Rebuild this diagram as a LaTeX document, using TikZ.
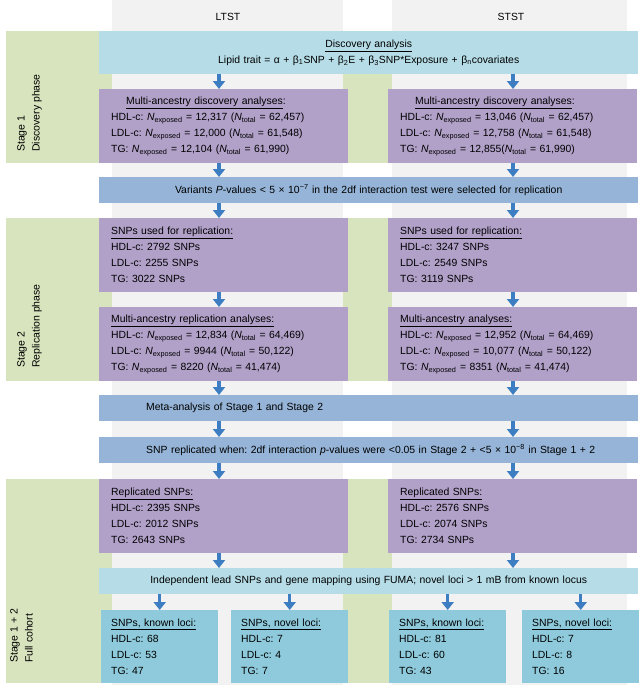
\documentclass[tikz,border=0pt]{standalone}
\usepackage{fontspec}
\setmainfont{Liberation Sans}
\usetikzlibrary{arrows.meta}
\frenchspacing
\definecolor{bandgreen}{RGB}{216,228,190}
\definecolor{colgray}{RGB}{242,242,242}
\definecolor{lightblue}{RGB}{182,221,231}
\definecolor{midblue}{RGB}{149,180,215}
\definecolor{boxpurple}{RGB}{177,161,201}
\definecolor{lociblue}{RGB}{142,202,219}
\definecolor{arrowblue}{RGB}{61,125,193}
\tikzset{
  box/.style={anchor=north west, inner xsep=12pt, inner ysep=0pt, align=left, font=\fontsize{10.4}{16}\selectfont},
  widebox/.style={box, fill=midblue, text width=515pt, minimum height=26pt},
  purplebox/.style={box, fill=boxpurple, text width=225pt, minimum height=74pt},
  locibox/.style={box, fill=lociblue, inner xsep=10pt, text width=97pt, minimum height=73pt},
  stagelabel/.style={rotate=90, anchor=north west, inner sep=0pt, align=left, font=\fontsize{10.5}{15}\selectfont},
  header/.style={font=\fontsize{10.4}{12}\selectfont},
  flow/.style={draw=arrowblue, line width=3.2pt, -{Triangle[width=12pt,length=8pt]}}
}
\begin{document}
\begin{tikzpicture}[x=1pt,y=-1pt]
	\useasboundingbox (0,0) rectangle (638,685);
	\fill[bandgreen] (6,31) rectangle (627,163);
	\fill[bandgreen] (6,218) rectangle (627,381);
	\fill[bandgreen] (6,479) rectangle (627,683);
	\fill[colgray] (112,0) rectangle (343,685);
	\fill[colgray] (392,0) rectangle (627,685);
	\coordinate (lcol) at (219,0);
	\coordinate (rcol) at (513,0);
	\node[header] (ltst) at (228,17) {LTST};
	\node[header] (stst) at (511,17) {STST};
	\node[box, fill=lightblue, text width=515pt, minimum height=43pt, align=center] (disc) at (99,31) {\underline{Discovery analysis}\\Lipid trait = α + β\textsubscript{1}SNP + β\textsubscript{2}E + β\textsubscript{3}SNP*Exposure + β\textsubscript{n}covariates};
		\node[purplebox] (mdl) at (99,89) {\hspace*{15pt}\underline{Multi-ancestry discovery analyses}:\\HDL-c: \textit{N}\textsubscript{exposed} = 12,317 (\textit{N}\textsubscript{total} = 62,457)\\LDL-c: \textit{N}\textsubscript{exposed} = 12,000 (\textit{N}\textsubscript{total} = 61,548)\\TG: \textit{N}\textsubscript{exposed} = 12,104 (\textit{N}\textsubscript{total} = 61,990)};
		\node[purplebox] (mdr) at (388,89) {\hspace*{15pt}\underline{Multi-ancestry discovery analyses}:\\HDL-c: \textit{N}\textsubscript{exposed} = 13,046 (\textit{N}\textsubscript{total} = 62,457)\\LDL-c: \textit{N}\textsubscript{exposed} = 12,758 (\textit{N}\textsubscript{total} = 61,548)\\TG: \textit{N}\textsubscript{exposed} = 12,855(\textit{N}\textsubscript{total} = 61,990)};
	\node[widebox, align=center] (var) at (99,177) {Variants \textit{P}-values < 5 × 10\textsuperscript{−7} in the 2df interaction test were selected for replication};
		\node[purplebox] (sul) at (99,218) {\underline{SNPs used for replication:}\\HDL-c: 2792 SNPs\\LDL-c: 2255 SNPs\\TG: 3022 SNPs};
		\node[purplebox] (sur) at (388,218) {\underline{SNPs used for replication:}\\HDL-c: 3247 SNPs\\LDL-c: 2549 SNPs\\TG: 3119 SNPs};
		\node[purplebox] (mrl) at (99,307) {\underline{Multi-ancestry replication analyses:}\\HDL-c: \textit{N}\textsubscript{exposed} = 12,834 (\textit{N}\textsubscript{total} = 64,469)\\LDL-c: \textit{N}\textsubscript{exposed} = 9944 (\textit{N}\textsubscript{total} = 50,122)\\TG: \textit{N}\textsubscript{exposed} = 8220 (\textit{N}\textsubscript{total} = 41,474)};
		\node[purplebox] (mrr) at (388,307) {\underline{Multi-ancestry analyses:}\\HDL-c: \textit{N}\textsubscript{exposed} = 12,952 (\textit{N}\textsubscript{total} = 64,469)\\LDL-c: \textit{N}\textsubscript{exposed} = 10,077 (\textit{N}\textsubscript{total} = 50,122)\\TG: \textit{N}\textsubscript{exposed} = 8351 (\textit{N}\textsubscript{total} = 41,474)};
	\node[widebox] (meta) at (99,395) {\hspace*{35pt}Meta-analysis of Stage 1 and Stage 2};
	\node[widebox] (repl) at (99,437) {\hspace*{35pt}SNP replicated when: 2df interaction \textit{p}-values were <0.05 in Stage 2 + <5 × 10\textsuperscript{−8} in Stage 1 + 2};
		\node[purplebox] (rsl) at (99,479) {\underline{Replicated SNPs:}\\HDL-c: 2395 SNPs\\LDL-c: 2012 SNPs\\TG: 2643 SNPs};
		\node[purplebox] (rsr) at (388,479) {\underline{Replicated SNPs:}\\HDL-c: 2576 SNPs\\LDL-c: 2074 SNPs\\TG: 2734 SNPs};
	\node[widebox, fill=lightblue, align=center] (fuma) at (99,568) {Independent lead SNPs and gene mapping using FUMA; novel loci > 1 mB from known locus};
			\node[locibox] (kl) at (101,610) {\underline{SNPs, known loci:}\\HDL-c: 68\\LDL-c: 53\\TG: 47};
			\node[locibox] (nl) at (231,610) {\underline{SNPs, novel loci:}\\HDL-c: 7\\LDL-c: 4\\TG: 7};
			\node[locibox] (kr) at (389,610) {\underline{SNPs, known loci:}\\HDL-c: 81\\LDL-c: 60\\TG: 43};
			\node[locibox] (nr) at (522,610) {\underline{SNPs, novel loci:}\\HDL-c: 7\\LDL-c: 8\\TG: 16};
	\node[stagelabel] (s1) at (17,152) {Stage 1\\Discovery phase};
	\node[stagelabel] (s2) at (17,368) {Stage 2\\Replication phase};
	\node[stagelabel] (s3) at (10,663) {Stage 1 + 2\\Full cohort};
	\draw[flow] (disc.south -| lcol) -- (mdl.north -| lcol);
	\draw[flow] (disc.south -| rcol) -- (mdr.north -| rcol);
	\draw[flow] (mdl.south -| lcol) -- (var.north -| lcol);
	\draw[flow] (mdr.south -| rcol) -- (var.north -| rcol);
	\draw[flow] (var.south -| lcol) -- (sul.north -| lcol);
	\draw[flow] (var.south -| rcol) -- (sur.north -| rcol);
	\draw[flow] (sul.south -| lcol) -- (mrl.north -| lcol);
	\draw[flow] (sur.south -| rcol) -- (mrr.north -| rcol);
	\draw[flow] (mrl.south -| lcol) -- (meta.north -| lcol);
	\draw[flow] (mrr.south -| rcol) -- (meta.north -| rcol);
	\draw[flow] (meta.south -| lcol) -- (repl.north -| lcol);
	\draw[flow] (meta.south -| rcol) -- (repl.north -| rcol);
	\draw[flow] (repl.south -| lcol) -- (rsl.north -| lcol);
	\draw[flow] (repl.south -| rcol) -- (rsr.north -| rcol);
	\draw[flow] (rsl.south -| lcol) -- (fuma.north -| lcol);
	\draw[flow] (rsr.south -| rcol) -- (fuma.north -| rcol);
	\draw[flow] (fuma.south -| kl.north) -- (kl.north);
	\draw[flow] (fuma.south -| nl.north) -- (nl.north);
	\draw[flow] (fuma.south -| kr.north) -- (kr.north);
	\draw[flow] (fuma.south -| nr.north) -- (nr.north);
\end{tikzpicture}
\end{document}
